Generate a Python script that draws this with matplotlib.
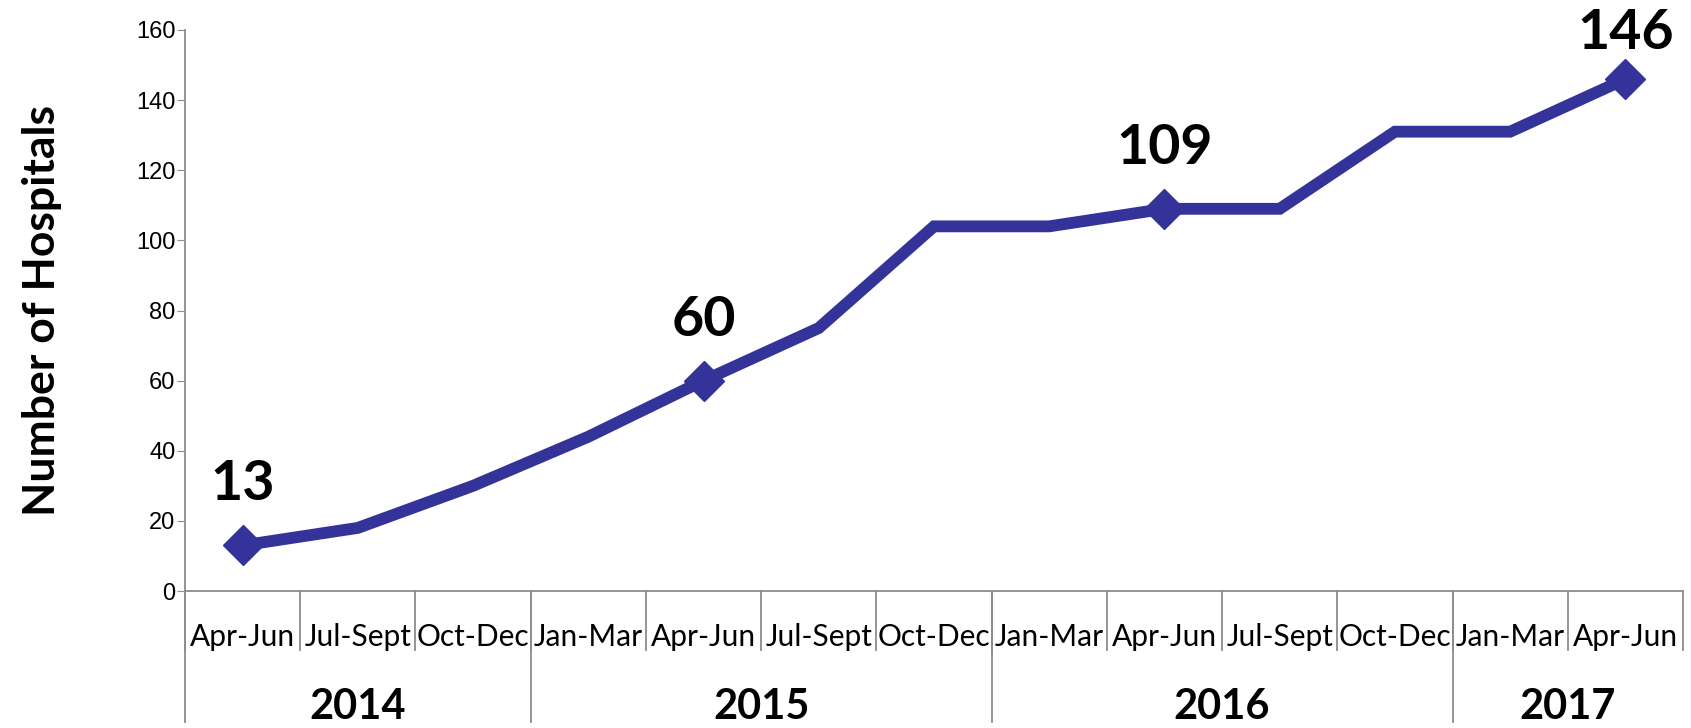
import matplotlib.pyplot as plt
from matplotlib import transforms

# quarterly counts
quarters = ["Apr-Jun", "Jul-Sept", "Oct-Dec", "Jan-Mar", "Apr-Jun", "Jul-Sept", "Oct-Dec",
            "Jan-Mar", "Apr-Jun", "Jul-Sept", "Oct-Dec", "Jan-Mar", "Apr-Jun"]
hospitals = [13, 18, 30, 44, 60, 75, 104, 104, 109, 109, 131, 131, 146]
years = ["2014", "2015", "2016", "2017"]
quarters_per_year = [3, 4, 4, 2]
labelled = [0, 4, 8, 12]

line_color = "#333399"
axis_gray = "#8c8c8c"

W, H = 1691, 728
fig = plt.figure(figsize=(W / 100, H / 100), dpi=100)
ax = fig.add_axes([185 / W, 1 - 591 / H, (1683 - 185) / W, (591 - 30) / H])

x = list(range(len(hospitals)))
ax.plot(x, hospitals, color=line_color, lw=8.5, solid_joinstyle="miter", zorder=3)
ax.plot([x[i] for i in labelled], [hospitals[i] for i in labelled], ls="none",
        marker="D", ms=20, color=line_color, zorder=4)

for i in labelled:
    off = 33 if i == labelled[-1] else 44
    ax.annotate(str(hospitals[i]), (x[i], hospitals[i]), xytext=(0, off),
                textcoords="offset points", ha="center", va="center",
                fontsize=40, fontweight="bold", family="Lato")

ax.set_xlim(-0.5, len(hospitals) - 0.5)
ax.set_ylim(0, 160)
ax.set_yticks(range(0, 161, 20))
ax.tick_params(axis="y", length=6, color=axis_gray, labelsize=17, pad=1)
for lab in ax.get_yticklabels():
    lab.set_family("Liberation Sans")
ax.set_xticks([])
for s in ["top", "right"]:
    ax.spines[s].set_visible(False)
for s in ["left", "bottom"]:
    ax.spines[s].set_color(axis_gray)
    ax.spines[s].set_linewidth(1.3)

ax.set_ylabel("Number of Hospitals", fontsize=32, fontweight="bold", family="Lato",
              labelpad=53)

# two-level category axis
trans = transforms.blended_transform_factory(ax.transData, ax.transAxes)
cat_depth = -(650 - 591) / 561
year_depth = -(722 - 591) / 561
for i, q in enumerate(quarters):
    ax.text(i, -(637 - 591) / 561, q, transform=trans, ha="center", va="center",
            fontsize=21.5, family="Lato")
for i in range(len(quarters) + 1):
    ax.plot([i - 0.5, i - 0.5], [0, cat_depth], transform=trans, color=axis_gray,
            lw=1.3, clip_on=False)

start = 0
bounds = [start]
for n in quarters_per_year:
    start += n
    bounds.append(start)
for b in bounds[:-1]:
    ax.plot([b - 0.5, b - 0.5], [0, year_depth], transform=trans, color=axis_gray,
            lw=1.3, clip_on=False)
for y, a, b in zip(years, bounds[:-1], bounds[1:]):
    ax.text((a + b - 1) / 2, -(707 - 591) / 561, y, transform=trans, ha="center",
            va="center", fontsize=30, fontweight="bold", family="Lato")

plt.savefig("out.png", dpi=100)
plt.close()
